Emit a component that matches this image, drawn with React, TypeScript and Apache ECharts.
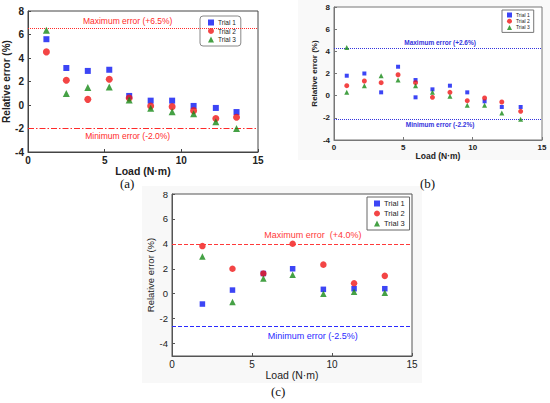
import React, { useEffect, useRef } from "react";
import * as echarts from "echarts";

// Panel (a)
const loadA = [1.2, 2.5, 3.9, 5.3, 6.6, 8.0, 9.4, 10.8, 12.25, 13.6];
const trial1A = [5.6, 3.15, 2.9, 3.0, 0.77, 0.37, 0.37, -0.08, -0.25, -0.6];
const trial2A = [4.52, 2.1, 0.48, 2.19, 0.6, -0.08, -0.14, -0.48, -1.15, -1.05];
const trial3A = [6.37, 0.97, 1.48, 1.54, 0.42, -0.28, -0.57, -0.74, -1.42, -1.99];
const limitsA = [6.5, -2.0];

// Panel (b)
const loadB = [0.92, 2.19, 3.4, 4.62, 5.88, 7.1, 8.36, 9.61, 10.86, 12.1, 13.46];
const trial1B = [1.8, 2.0, 0.3, 2.61, 1.41, 0.57, 0.9, 0.3, -0.51, -1.02, -1.02];
const trial2B = [0.9, 1.32, 1.17, 1.89, 1.17, -0.15, 0.3, -0.45, -0.21, -0.57, -1.41];
const trial3B = [0.3, 0.9, 1.8, 1.41, 0.9, 0.3, -0.05, -0.87, -0.87, -1.56, -2.13];
const extraTrial1B = [[5.88, -0.15]];
const extraTrial3B = [[0.92, 4.35]];
const limitsB = [4.26, -2.13];

// Panel (c)
const loadC = [1.9, 3.78, 5.71, 7.54, 9.46, 11.38, 13.3];
const trial1C = [-0.83, 0.29, 1.62, 2.0, 0.35, 0.4, 0.4];
const trial2C = [3.82, 2.0, 1.62, 4.01, 2.33, 0.84, 1.43];
const trial3C = [2.98, -0.66, 1.21, 1.52, 0.0, 0.16, 0.08];
const limitsC = [4.0, -2.6];

const yTicksC = [-4, -2, 0, 2, 4, 6, 8];
const trialNames = ["Trial 1", "Trial 2", "Trial 3"];
const labelsA = ["Maximum error (+6.5%)", "Minimum error (-2.0%)"];
const labelsB = ["Maximum error (+2.6%)", "Minimum error (-2.2%)"];
const labelsC = ["Maximum error  (+4.0%)", "Minimum error (-2.5%)"];
const labelX = [6.5, 7.65, 8.8];

const BLUE = "#0b16f2";
const RED = "#f01616";
const GREEN = "#178a17";
const SANS = "Liberation Sans, Arial, sans-serif";
const SERIF = "Liberation Serif, DejaVu Serif, serif";

const pts = (xs: number[], ys: number[]) => xs.map((x, i) => [x, ys[i]]);

function xAxisCfg(gi: number, fs: number, fw: string, gap: number, color: string, lineColor: string) {
  return {
    type: "value",
    gridIndex: gi,
    min: 0,
    max: 15,
    interval: 5,
    axisLine: { show: true, onZero: false, lineStyle: { color: lineColor, width: 1 } },
    axisTick: { show: true, inside: true, length: 3, lineStyle: { color: lineColor } },
    splitLine: { show: false },
    axisLabel: { fontSize: fs, fontWeight: fw, color, margin: 3, fontFamily: SANS },
    name: "Load (N·m)",
    nameLocation: "middle",
    nameGap: gap,
    nameTextStyle: { fontSize: fs + 0.5, fontWeight: fw, color, fontFamily: SANS },
  };
}

function yAxisCfg(gi: number, min: number, max: number, fs: number, fw: string, gap: number, color: string, lineColor: string, custom?: number[]) {
  const cfg: any = {
    type: "value",
    gridIndex: gi,
    min,
    max,
    interval: 2,
    axisLine: { show: true, onZero: false, lineStyle: { color: lineColor, width: 1 } },
    axisTick: { show: true, inside: true, length: 3, lineStyle: { color: lineColor } },
    splitLine: { show: false },
    axisLabel: { fontSize: fs, fontWeight: fw, color, margin: 4, fontFamily: SANS },
    name: "Relative error (%)",
    nameLocation: "middle",
    nameGap: gap,
    nameTextStyle: { fontSize: fs, fontWeight: fw, color, fontFamily: SANS },
  };
  if (custom) {
    cfg.interval = 1;
    cfg.axisLabel.customValues = custom;
    cfg.axisTick.customValues = custom;
  }
  return cfg;
}

function limitSeries(
  gi: number,
  limits: number[],
  texts: string[],
  x: number,
  colors: string[],
  types: any[],
  fs: number,
  fw: string,
  dist: number[]
) {
  return {
    type: "scatter",
    name: "limits" + gi,
    xAxisIndex: gi,
    yAxisIndex: gi,
    data: [],
    silent: true,
    markLine: {
      silent: true,
      symbol: "none",
      animation: false,
      label: { show: false },
      data: limits.map((v, i) => ({
        yAxis: v,
        lineStyle: { color: colors[i], type: types[i], width: 1 },
      })),
    },
    markPoint: {
      silent: true,
      animation: false,
      symbol: "circle",
      symbolSize: 0,
      data: limits.map((v, i) => ({
        coord: [x, v],
        label: {
          show: true,
          formatter: texts[i],
          position: i === 0 ? "top" : "bottom",
          distance: dist[i],
          color: colors[i],
          fontSize: fs,
          fontWeight: fw,
          fontFamily: SANS,
        },
      })),
    },
  };
}

function trialSeries(gi: number, data: number[][][], size: number) {
  const syms = ["rect", "circle", "triangle"];
  const cols = [BLUE, RED, GREEN];
  return data.map((d, i) => ({
    type: "scatter",
    name: trialNames[i],
    xAxisIndex: gi,
    yAxisIndex: gi,
    symbol: syms[i],
    symbolSize: i === 0 ? size - 1 : size,
    itemStyle: { color: cols[i] },
    data: d,
    z: 3 + i,
  }));
}

function legendCfg(left: number, top: number, fs: number, icon: number, gap: number, padding: number[], radius: number, border: string) {
  return {
    data: trialNames,
    orient: "vertical",
    left,
    top,
    itemWidth: icon,
    itemHeight: icon,
    itemGap: gap,
    padding,
    borderColor: border,
    borderWidth: 1,
    borderRadius: radius,
    backgroundColor: "#ffffff",
    selectedMode: false,
    textStyle: { fontSize: fs, color: "#222", fontFamily: SANS, padding: [0, 0, 0, -1] },
  };
}

const option: any = {
  animation: false,
  backgroundColor: "#ffffff",
  graphic: [
    { type: "rect", shape: { x: 298, y: 0, width: 252, height: 160 }, style: { fill: "#f9f9f9" }, z: -10 },
    { type: "rect", shape: { x: 142, y: 186, width: 280, height: 197 }, style: { fill: "#f8f8f8" }, z: -10 },
    { type: "text", left: 120, top: 177, style: { text: "(a)", fontSize: 13, fontFamily: SERIF, fill: "#111" } },
    { type: "text", left: 420, top: 177, style: { text: "(b)", fontSize: 13, fontFamily: SERIF, fill: "#111" } },
    { type: "text", left: 271, top: 385, style: { text: "(c)", fontSize: 13, fontFamily: SERIF, fill: "#111" } },
  ],
  grid: [
    { left: 28, top: 11, width: 230, height: 141, show: true, borderColor: "#444", borderWidth: 1, backgroundColor: "#ffffff" },
    { left: 334, top: 7, width: 208, height: 133, show: true, borderColor: "#777", borderWidth: 1, backgroundColor: "#ffffff" },
    { left: 172, top: 194, width: 240, height: 162, show: true, borderColor: "#555", borderWidth: 1, backgroundColor: "#ffffff" },
  ],
  xAxis: [
    xAxisCfg(0, 10, "bold", 11, "#222", "#444"),
    xAxisCfg(1, 8, "bold", 11, "#222", "#777"),
    xAxisCfg(2, 10, "normal", 13, "#222", "#555"),
  ],
  yAxis: [
    yAxisCfg(0, -4, 8, 10, "bold", 14, "#222", "#444"),
    yAxisCfg(1, -4, 8, 8, "bold", 13, "#222", "#777"),
    yAxisCfg(2, -5, 8, 9.5, "normal", 17, "#222", "#555", yTicksC),
  ],
  legend: [
    legendCfg(200, 16, 6.5, 6, 1.5, [3, 5, 3, 8], 3, "#888"),
    legendCfg(502, 10, 5, 5, 1.2, [2.5, 4, 2.5, 5], 0, "#777"),
    legendCfg(367, 197, 7.5, 6, 2, [2.5, 5, 2.5, 7], 0, "#666"),
  ],
  series: [
    ...trialSeries(0, [pts(loadA, trial1A), pts(loadA, trial2A), pts(loadA, trial3A)], 7),
    ...trialSeries(
      1,
      [
        [...pts(loadB, trial1B), ...extraTrial1B],
        pts(loadB, trial2B),
        [...pts(loadB, trial3B), ...extraTrial3B],
      ],
      5
    ),
    ...trialSeries(2, [pts(loadC, trial1C), pts(loadC, trial2C), pts(loadC, trial3C)], 6.5),
    limitSeries(0, limitsA, labelsA, labelX[0], ["#ff2a2a", "#ff2a2a"], ["dotted", [6, 2, 1.5, 2]], 8.5, "normal", [3, 3]),
    limitSeries(1, limitsB, labelsB, labelX[1], ["#3333dd", "#3333dd"], ["dotted", "dotted"], 6.5, "bold", [2, 2]),
    limitSeries(2, limitsC, labelsC, labelX[2], ["#ff3a3a", "#2a2aff"], ["dashed", "dashed"], 9, "normal", [4, 5]),
  ],
};

export default function App() {
  const ref = useRef<HTMLDivElement>(null);
  useEffect(() => {
    document.body.style.margin = "0";
    const chart = echarts.init(ref.current!, null, { renderer: "svg" });
    chart.setOption(option);
    return () => chart.dispose();
  }, []);
  return <div ref={ref} style={{ width: 550, height: 403 }} />;
}
